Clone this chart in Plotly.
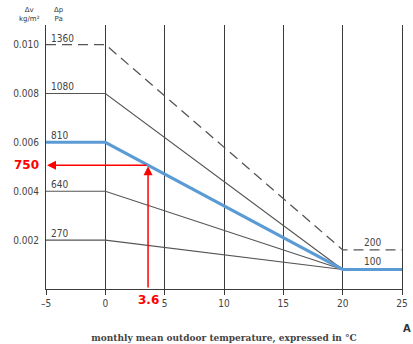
import plotly.graph_objects as go

# ---- data ----
x_ticks = [-5, 0, 5, 10, 15, 20, 25]
y_ticks = [0.002, 0.004, 0.006, 0.008, 0.010]
pa_labels = ["1360", "1080", "810", "640", "270"]
av_start = [0.010, 0.008, 0.006, 0.004, 0.002]
x_full = [-5, 0, 20, 25]
x_short = [-5, 0, 20]
av_end_1360 = 0.0016
av_end_common = 0.0008
end_labels = ["200", "100"]
example_temp = 3.6
example_pa = "750"

gray = "#555555"
blue = "#5b9bd5"
red = "#ff0000"

fig = go.Figure()

# 1360 dashed
fig.add_trace(go.Scatter(x=x_full, y=[av_start[0], av_start[0], av_end_1360, av_end_1360],
                         mode="lines", line=dict(color=gray, width=1.3, dash="10px,6px"),
                         hoverinfo="skip"))
# gray lines
for i in [1, 3, 4]:
    fig.add_trace(go.Scatter(x=x_short, y=[av_start[i], av_start[i], av_end_common],
                             mode="lines", line=dict(color=gray, width=1.1), hoverinfo="skip"))
# blue line 810
fig.add_trace(go.Scatter(x=x_full, y=[av_start[2], av_start[2], av_end_common, av_end_common],
                         mode="lines", line=dict(color=blue, width=3), hoverinfo="skip"))

annotations = []
for lab, v in zip(pa_labels, av_start):
    annotations.append(dict(x=-5, y=v, xref="x", yref="y", text=lab, showarrow=False,
                            xanchor="left", yanchor="bottom", xshift=3, yshift=-1,
                            font=dict(size=10, color="#444444", family="DejaVu Sans Condensed, DejaVu Sans")))
for lab, v in zip(end_labels, [av_end_1360, av_end_common]):
    annotations.append(dict(x=22.5, y=v, xref="x", yref="y", text=lab, showarrow=False,
                            xanchor="center", yanchor="bottom", yshift=0,
                            font=dict(size=10, color="#444444", family="DejaVu Sans Condensed, DejaVu Sans")))

# example reading: blue line value at example temp
ex_av = av_start[2] + (av_end_common - av_start[2]) * (example_temp - 0) / 20
annotations.append(dict(x=example_temp, y=ex_av, ax=example_temp, ay=0, xref="x", yref="y",
                        axref="x", ayref="y", showarrow=True, arrowhead=2, arrowsize=1.2,
                        arrowwidth=1.5, arrowcolor=red, text="", standoff=1))
annotations.append(dict(x=-5, y=ex_av, ax=example_temp, ay=ex_av, xref="x", yref="y",
                        axref="x", ayref="y", showarrow=True, arrowhead=2, arrowsize=1.2,
                        arrowwidth=1.5, arrowcolor=red, text="", standoff=1))
annotations.append(dict(x=-5, y=ex_av, xref="x", yref="y", text="<b>" + example_pa + "</b>",
                        showarrow=False, xanchor="right", xshift=-5,
                        font=dict(size=12, color=red, family="DejaVu Sans")))
annotations.append(dict(x=example_temp, y=0, xref="x", yref="y", text="<b>" + str(example_temp) + "</b>",
                        showarrow=False, yanchor="top", yshift=-2,
                        font=dict(size=12, color=red, family="DejaVu Sans")))
# headers
annotations.append(dict(x=-5, y=1, xref="x", yref="paper", text="Δv<br>kg/m²", showarrow=False,
                        xanchor="right", yanchor="bottom", xshift=-4, yshift=0, align="center",
                        font=dict(size=7, color="#333333", family="DejaVu Sans")))
annotations.append(dict(x=-5, y=1, xref="x", yref="paper", text="Δp<br>Pa", showarrow=False,
                        xanchor="left", yanchor="bottom", xshift=6, yshift=0, align="center",
                        font=dict(size=7, color="#333333", family="DejaVu Sans")))
annotations.append(dict(x=1, y=0, xref="paper", yref="paper", text="<b>A</b>", showarrow=False,
                        xanchor="left", yanchor="top", xshift=-1, yshift=-32,
                        font=dict(size=10, color="#333333", family="DejaVu Sans")))

fig.update_layout(
    width=413, height=344,
    margin=dict(l=46, r=11, t=25, b=55, autoexpand=False),
    paper_bgcolor="white", plot_bgcolor="white",
    showlegend=False,
    annotations=annotations,
    xaxis=dict(range=[-5, 25], tickvals=x_ticks, ticktext=["–5"] + [str(t) for t in x_ticks[1:]],
               showgrid=True, gridcolor="#3a3a3a", gridwidth=1, zeroline=False,
               showline=True, linecolor="#3a3a3a", linewidth=1.2, automargin=False,
               ticks="outside", ticklen=5, tickcolor="#3a3a3a",
               tickfont=dict(size=10, color="#444444", family="DejaVu Sans Condensed, DejaVu Sans"),
               title=dict(text="<b>monthly mean outdoor temperature, expressed in °C</b>",
                          standoff=25,
                          font=dict(size=10, color="#444444", family="DejaVu Serif Condensed, DejaVu Serif"))),
    yaxis=dict(range=[0, 0.0108], tickvals=y_ticks, tickformat=".3f", automargin=False,
               showgrid=False, zeroline=False,
               showline=True, mirror=True, linecolor="#3a3a3a", linewidth=1.2,
               ticks="", ticklabelstandoff=4,
               tickfont=dict(size=10, color="#444444", family="DejaVu Sans Condensed, DejaVu Sans")),
)

fig.write_html("out.html", config={"displayModeBar": False},
               post_script="document.body.style.margin='0';document.body.style.overflow='hidden';")
